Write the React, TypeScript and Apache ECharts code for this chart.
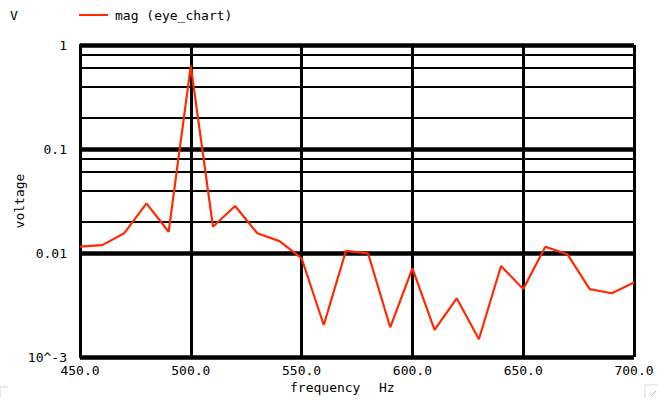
import React, { useEffect, useRef } from "react";
import * as echarts from "echarts";

const frequencies = [450, 460, 470, 480, 490, 500, 510, 520, 530, 540, 550, 560, 570, 580, 590, 600, 610, 620, 630, 640, 650, 660, 670, 680, 690, 700];
const magnitudes = [0.0115, 0.0119, 0.0155, 0.030, 0.016, 0.63, 0.0179, 0.0283, 0.0155, 0.013, 0.0089, 0.00203, 0.0105, 0.0099, 0.00193, 0.0071, 0.00182, 0.00367, 0.00148, 0.0075, 0.0045, 0.0115, 0.0097, 0.0045, 0.0041, 0.0052];
const yTickValues = [1, 0.1, 0.01, 0.001];
const yTickLabels = ["1", "0.1", "0.01", "10^-3"];
const minorGridValues = [0.2, 0.4, 0.6, 0.8, 0.02, 0.04, 0.06, 0.08, 0.002, 0.004, 0.006, 0.008];
const seriesName = "mag (eye_chart)";

const FONT = "'DejaVu Sans Mono', monospace";

export default function App() {
  const ref = useRef<HTMLDivElement>(null);
  useEffect(() => {
    document.body.style.margin = "0";
    const chart = echarts.init(ref.current!, null, { renderer: "svg" });
    const data = frequencies.map((f, i) => [f, magnitudes[i]]);
    chart.setOption({
      animation: false,
      backgroundColor: "#ffffff",
      textStyle: { fontFamily: FONT },
      grid: { left: 80, right: 36, top: 45, bottom: 45, containLabel: false, outerBoundsMode: "none" },
      legend: {
        data: [{ name: seriesName, icon: "rect" }],
        left: 79,
        top: 3,
        itemWidth: 29,
        itemHeight: 2,
        textStyle: { fontFamily: FONT, fontSize: 13, color: "#000", padding: [0, 0, 0, 2], lineHeight: 14 },
        padding: [5, 5, 5, 0],
      },
      xAxis: {
        type: "value",
        min: 450,
        max: 700,
        interval: 50,
        axisLine: { show: false },
        axisTick: { show: false },
        axisLabel: {
          margin: 7,
          fontFamily: FONT,
          fontSize: 13,
          color: "#000",
          formatter: (v: number) => v.toFixed(1),
        },
        splitLine: { show: true, lineStyle: { color: "#000", width: 3 } },
      },
      yAxis: {
        type: "log",
        logBase: 10,
        min: 0.001,
        max: 1,
        axisLine: { show: true, lineStyle: { color: "#000", width: 3 } },
        axisTick: { show: false },
        axisLabel: {
          margin: 13,
          fontFamily: FONT,
          fontSize: 13,
          color: "#000",
          formatter: (v: number) => {
            const idx = yTickValues.findIndex((t) => Math.abs(Math.log10(t) - Math.log10(v)) < 1e-6);
            return idx >= 0 ? yTickLabels[idx] : "";
          },
        },
        splitLine: { show: true, lineStyle: { color: "#000", width: 4.5 } },
      },
      series: [
        {
          name: "grid",
          type: "line",
          data: data,
          z: 1,
          showSymbol: false,
          symbol: "none",
          lineStyle: { width: 0, opacity: 0 },
          silent: true,
          markLine: {
            silent: true,
            symbol: ["none", "none"],
            label: { show: false },
            lineStyle: { color: "#000", width: 2, type: "solid" },
            data: minorGridValues.map((v) => ({ yAxis: v })),
          },
        },
        {
          name: seriesName,
          type: "line",
          data: data,
          z: 5,
          symbol: "none",
          lineStyle: { color: "#ff2a00", width: 2.2 },
          itemStyle: { color: "#ff2a00" },
        },
      ],
      graphic: [
        {
          type: "text",
          left: 10,
          top: 9,
          style: { text: "V", font: `13px ${FONT}`, fill: "#000" },
        },
        {
          type: "text",
          x: 19,
          y: 201,
          rotation: Math.PI / 2,
          style: { text: "voltage", font: `13px ${FONT}`, fill: "#000", align: "center", verticalAlign: "middle" },
        },
        {
          type: "text",
          left: 290,
          top: 381,
          style: { text: "frequency", font: `13px ${FONT}`, fill: "#000" },
        },
        {
          type: "text",
          left: 379,
          top: 381,
          style: { text: "Hz", font: `13px ${FONT}`, fill: "#000" },
        },
        {
          type: "polyline",
          shape: { points: [[658, 385], [645, 385], [645, 398]] },
          style: { stroke: "#d8d8d8", lineWidth: 1, fill: "none" },
        },
        {
          type: "line",
          shape: { x1: 651, y1: 396, x2: 656, y2: 391 },
          style: { stroke: "#b0b0b0", lineWidth: 1 },
        },
        {
          type: "polyline",
          shape: { points: [[8, 387], [0, 387], [0, 398]] },
          style: { stroke: "#d8d8d8", lineWidth: 1, fill: "none" },
        },
      ],
    });
    return () => chart.dispose();
  }, []);
  return <div ref={ref} style={{ width: 670, height: 402 }} />;
}
